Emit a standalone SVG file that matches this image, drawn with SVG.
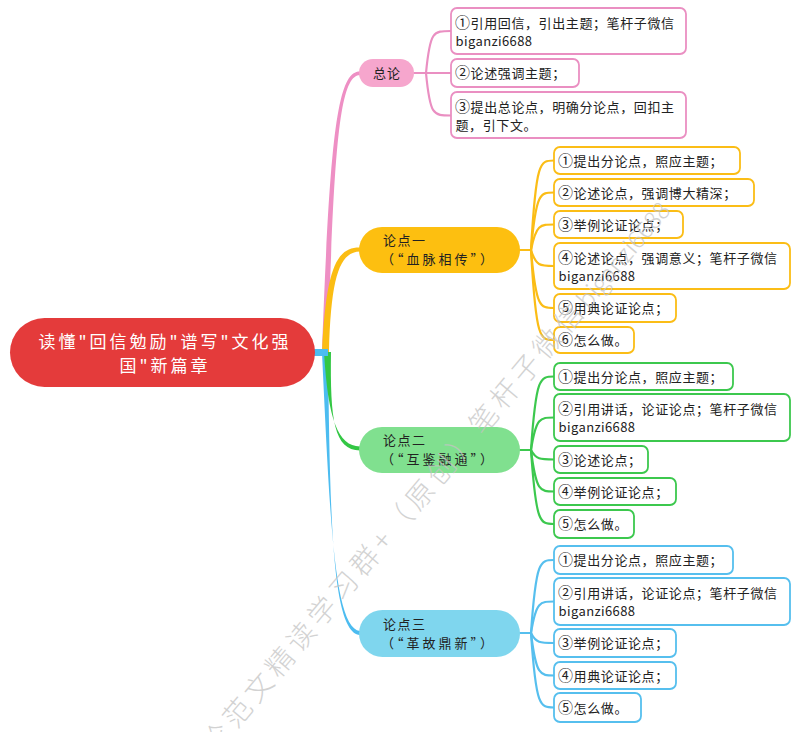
<svg xmlns="http://www.w3.org/2000/svg" width="800" height="732" viewBox="0 0 800 732">
<style>
text { font-family: "Noto Sans CJK SC", "Noto Sans", sans-serif; }
.t { font-size: 13px; fill: #222; letter-spacing: 0.6px; }
.n { font-size: 15px; }
.l2 { letter-spacing: 3px; }
.lat { letter-spacing: 0.4px; }
.rt { font-size: 17px; fill: #fff; letter-spacing: 3px; text-anchor: middle; }
.box { fill: #fff; stroke-width: 1.8; }
.pk { stroke: #ea8fc2; }
.or { stroke: #fbbd16; }
.gr { stroke: #3cc84e; }
.bl { stroke: #56bfee; }
.c { fill: none; stroke-width: 2.2; stroke-linecap: round; }
.wm { font-size: 28px; font-weight: 300; fill: #c4c4c4; letter-spacing: 5px; opacity: 0.75; }
</style>

<g id="connectors">
  <path d="M322,352 C330,130 338,71 360,71.5 L360,75 C341,76 334,130 328,352 Z" fill="#ee8fc4"/>
  <path d="M322,353 C330,520 334,628 360,631 L360,635 C332,633 330,520 328,353 Z" fill="#4cbcf0"/>
  <path d="M324,352 C328,420 338,446 360,446.5 L360,450.5 C334,450 330,420 331,352 Z" fill="#33c744"/>
  <path d="M322,352 C326,270 336,247 360,247.5 L360,251.5 C340,252 331,275 329,352 Z" fill="#fbbd13"/>
  <rect x="312" y="349" width="16" height="7" fill="#4cbcf0"/>

  <g class="c pk">
    <path d="M414,73 H426"/>
    <path d="M426,73 C430,31 433,31 451,31"/>
    <path d="M426,73 H451"/>
    <path d="M426,73 C430,115.5 433,115.5 451,115.5"/>
  </g>
  <g class="c or">
    <path d="M520,250 H531"/>
    <path d="M531,250 C536,160.5 540,160.5 554,160.5"/>
    <path d="M531,250 C536,192.5 540,192.5 554,192.5"/>
    <path d="M531,250 C536,224.5 540,224.5 554,224.5"/>
    <path d="M531,250 C536,266 540,266 554,266"/>
    <path d="M531,250 C536,308 540,308 554,308"/>
    <path d="M531,250 C536,340 540,340 554,340"/>
  </g>
  <g class="c gr">
    <path d="M520,450 H531"/>
    <path d="M531,450 C536,376.5 540,376.5 554,376.5"/>
    <path d="M531,450 C536,417.5 540,417.5 554,417.5"/>
    <path d="M531,450 C536,459.5 540,459.5 554,459.5"/>
    <path d="M531,450 C536,491.5 540,491.5 554,491.5"/>
    <path d="M531,450 C536,524 540,524 554,524"/>
  </g>
  <g class="c bl">
    <path d="M520,633 H531"/>
    <path d="M531,633 C536,560 540,560 554,560"/>
    <path d="M531,633 C536,601.5 540,601.5 554,601.5"/>
    <path d="M531,633 C536,643 540,643 554,643"/>
    <path d="M531,633 C536,675.5 540,675.5 554,675.5"/>
    <path d="M531,633 C536,707.5 540,707.5 554,707.5"/>
  </g>
</g>

<g id="root">
  <rect x="10" y="318" width="305" height="69" rx="34.5" fill="#e43b3b"/>
  <text class="rt" x="165" y="348">读懂"回信勉励"谱写"文化强</text>
  <text class="rt" x="165" y="372">国"新篇章</text>
</g>

<g id="zonglun">
  <rect x="359" y="59" width="55" height="28" rx="14" fill="#f6a6cd"/>
  <text class="t" x="387" y="78" text-anchor="middle" style="letter-spacing:1px">总论</text>
</g>
<g id="zl-1"><rect class="box pk" x="451" y="8" width="235" height="46" rx="6"/>
  <text class="t" x="455" y="28"><tspan class="n">①</tspan>引用回信，引出主题；笔杆子微信</text>
  <text class="t lat" x="455.5" y="46">biganzi6688</text></g>
<g id="zl-2"><rect class="box pk" x="451" y="59" width="128" height="28" rx="6"/>
  <text class="t" x="455" y="78"><tspan class="n">②</tspan>论述强调主题；</text></g>
<g id="zl-3"><rect class="box pk" x="451" y="92" width="235" height="46" rx="6"/>
  <text class="t" x="455" y="112"><tspan class="n">③</tspan>提出总论点，明确分论点，回扣主</text>
  <text class="t" x="455.5" y="130">题，引下文。</text></g>

<g id="lundian1">
  <rect x="359" y="227" width="161" height="46" rx="23" fill="#fdbf10"/>
  <text class="t" x="383" y="245" style="letter-spacing:1.5px">论点一</text>
  <text class="t l2" x="381" y="264">（“血脉相传”）</text>
</g>
<g id="ld1-1"><rect class="box or" x="554" y="147" width="186" height="27" rx="6"/>
  <text class="t" x="558" y="165.5"><tspan class="n">①</tspan>提出分论点，照应主题；</text></g>
<g id="ld1-2"><rect class="box or" x="554" y="179" width="200" height="27" rx="6"/>
  <text class="t" x="558" y="197.5"><tspan class="n">②</tspan>论述论点，强调博大精深；</text></g>
<g id="ld1-3"><rect class="box or" x="554" y="211" width="129" height="27" rx="6"/>
  <text class="t" x="558" y="229.5"><tspan class="n">③</tspan>举例论证论点；</text></g>
<g id="ld1-4"><rect class="box or" x="554" y="243" width="236" height="46" rx="6"/>
  <text class="t" x="558" y="263"><tspan class="n">④</tspan>论述论点，强调意义；笔杆子微信</text>
  <text class="t lat" x="558.5" y="281">biganzi6688</text></g>
<g id="ld1-5"><rect class="box or" x="554" y="294" width="122" height="28" rx="6"/>
  <text class="t" x="558" y="313"><tspan class="n">⑤</tspan>用典论证论点；</text></g>
<g id="ld1-6"><rect class="box or" x="554" y="327" width="80" height="26" rx="6"/>
  <text class="t" x="558" y="345"><tspan class="n">⑥</tspan>怎么做。</text></g>

<g id="lundian2">
  <rect x="359" y="427" width="161" height="46" rx="23" fill="#80e08f"/>
  <text class="t" x="383" y="445" style="letter-spacing:1.5px">论点二</text>
  <text class="t l2" x="381" y="464">（“互鉴融通”）</text>
</g>
<g id="ld2-1"><rect class="box gr" x="554" y="363" width="179" height="27" rx="6"/>
  <text class="t" x="558" y="381.5"><tspan class="n">①</tspan>提出分论点，照应主题；</text></g>
<g id="ld2-2"><rect class="box gr" x="554" y="394" width="236" height="47" rx="6"/>
  <text class="t" x="558" y="414"><tspan class="n">②</tspan>引用讲话，论证论点；笔杆子微信</text>
  <text class="t lat" x="558.5" y="432">biganzi6688</text></g>
<g id="ld2-3"><rect class="box gr" x="554" y="446" width="94" height="27" rx="6"/>
  <text class="t" x="558" y="464.5"><tspan class="n">③</tspan>论述论点；</text></g>
<g id="ld2-4"><rect class="box gr" x="554" y="478" width="122" height="27" rx="6"/>
  <text class="t" x="558" y="496.5"><tspan class="n">④</tspan>举例论证论点；</text></g>
<g id="ld2-5"><rect class="box gr" x="554" y="510" width="80" height="28" rx="6"/>
  <text class="t" x="558" y="529"><tspan class="n">⑤</tspan>怎么做。</text></g>

<g id="lundian3">
  <rect x="359" y="610" width="161" height="47" rx="23.5" fill="#7fd6ee"/>
  <text class="t" x="383" y="629" style="letter-spacing:1.5px">论点三</text>
  <text class="t l2" x="381" y="648">（“革故鼎新”）</text>
</g>
<g id="ld3-1"><rect class="box bl" x="554" y="546" width="179" height="28" rx="6"/>
  <text class="t" x="558" y="565"><tspan class="n">①</tspan>提出分论点，照应主题；</text></g>
<g id="ld3-2"><rect class="box bl" x="554" y="578" width="236" height="47" rx="6"/>
  <text class="t" x="558" y="598"><tspan class="n">②</tspan>引用讲话，论证论点；笔杆子微信</text>
  <text class="t lat" x="558.5" y="616">biganzi6688</text></g>
<g id="ld3-3"><rect class="box bl" x="554" y="629" width="122" height="28" rx="6"/>
  <text class="t" x="558" y="648"><tspan class="n">③</tspan>举例论证论点；</text></g>
<g id="ld3-4"><rect class="box bl" x="554" y="662" width="122" height="27" rx="6"/>
  <text class="t" x="558" y="680.5"><tspan class="n">④</tspan>用典论证论点；</text></g>
<g id="ld3-5"><rect class="box bl" x="554" y="693" width="87" height="29" rx="6"/>
  <text class="t" x="558" y="712.5"><tspan class="n">⑤</tspan>怎么做。</text></g>

<text class="wm" transform="translate(215,755) rotate(-50)">论范文精读学习群+（原创）笔杆子微信<tspan style="font-size:24px;letter-spacing:0px">biganzi6688</tspan></text>
</svg>
